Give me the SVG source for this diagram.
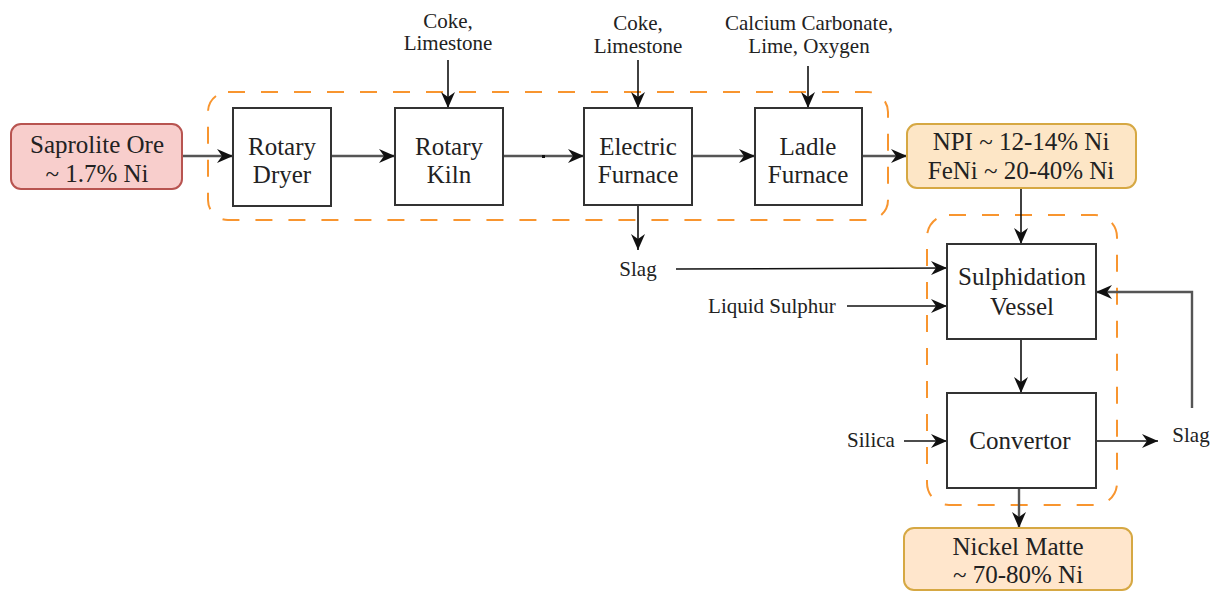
<svg xmlns="http://www.w3.org/2000/svg" width="1217" height="592" viewBox="0 0 1217 592">
<style>
.box{fill:#fff;stroke:#333;stroke-width:2}
.grp{fill:none;stroke:#f8952f;stroke-width:2;stroke-dasharray:17 16}
text{font-family:"Liberation Serif","DejaVu Serif",serif;fill:#222;text-anchor:middle}
.t{font-size:25px}
.s{font-size:21px}
.c{fill:none;stroke:#111;stroke-width:1.6}
.m{fill:none;stroke:#555;stroke-width:2.4}
</style>
<defs>
<marker id="a" viewBox="0 0 16 14" refX="16" refY="7" markerWidth="16" markerHeight="14" markerUnits="userSpaceOnUse" orient="auto">
<path d="M0,0 L16,7 L0,14 L5,7 Z" fill="#111"/>
</marker>
</defs>
<rect width="1217" height="592" fill="#fff"/>
<g id="group-pyro"><rect class="grp" x="208" y="92" width="680" height="128" rx="20"/></g>
<g id="group-sulph"><rect class="grp" x="927" y="215" width="190" height="290" rx="22"/></g>
<g id="connectors">
<line class="m" x1="182" y1="156" x2="233" y2="156" marker-end="url(#a)"/>
<line class="m" x1="331" y1="156" x2="395" y2="156" marker-end="url(#a)"/>
<line class="m" x1="503" y1="156" x2="584" y2="156" marker-end="url(#a)"/>
<rect x="542" y="155" width="3" height="3" fill="#111"/>
<line class="m" x1="692" y1="156" x2="755" y2="156" marker-end="url(#a)"/>
<line class="m" x1="862" y1="156" x2="907" y2="156" marker-end="url(#a)"/>
<line class="c" x1="448" y1="60" x2="448" y2="108" marker-end="url(#a)"/>
<line class="c" x1="638" y1="60" x2="638" y2="108" marker-end="url(#a)"/>
<line class="c" x1="808" y1="66" x2="808" y2="108" marker-end="url(#a)"/>
<line class="c" x1="638" y1="205" x2="638" y2="250" marker-end="url(#a)"/>
<line class="c" x1="676" y1="269" x2="947" y2="268" marker-end="url(#a)"/>
<line class="c" x1="847" y1="306" x2="947" y2="306" marker-end="url(#a)"/>
<line class="c" x1="1021" y1="188" x2="1021" y2="244" marker-end="url(#a)"/>
<line class="c" x1="1021" y1="339" x2="1021" y2="393" marker-end="url(#a)"/>
<line class="c" x1="904" y1="441" x2="947" y2="441" marker-end="url(#a)"/>
<line class="c" x1="1096" y1="441" x2="1158" y2="441" marker-end="url(#a)"/>
<polyline class="m" points="1192,408 1192,292 1096,292" marker-end="url(#a)"/>
<line class="m" x1="1019" y1="488" x2="1019" y2="528" marker-end="url(#a)"/>
</g>
<g id="saprolite"><rect x="11" y="124" width="171" height="65" rx="10" fill="#f8cecc" stroke="#b85450" stroke-width="2"/>
<text class="t" x="97" y="153">Saprolite Ore</text><text class="t" x="97" y="182">~ 1.7% Ni</text></g>
<g id="rotary-dryer"><rect class="box" x="233" y="108" width="98" height="98"/>
<text class="t" x="282" y="155">Rotary</text><text class="t" x="282" y="183">Dryer</text></g>
<g id="rotary-kiln"><rect class="box" x="395" y="108" width="108" height="97"/>
<text class="t" x="449" y="155">Rotary</text><text class="t" x="449" y="183">Kiln</text></g>
<g id="electric-furnace"><rect class="box" x="584" y="108" width="108" height="97"/>
<text class="t" x="638" y="155">Electric</text><text class="t" x="638" y="183">Furnace</text></g>
<g id="ladle-furnace"><rect class="box" x="755" y="108" width="107" height="97"/>
<text class="t" x="808" y="155">Ladle</text><text class="t" x="808" y="183">Furnace</text></g>
<g id="npi"><rect x="907" y="124" width="229" height="64" rx="10" fill="#fde6c6" stroke="#d6a843" stroke-width="2"/>
<text class="t" x="1021" y="150">NPI ~ 12-14% Ni</text><text class="t" x="1021" y="179">FeNi ~ 20-40% Ni</text></g>
<g id="sulphidation-vessel"><rect class="box" x="947" y="244" width="149" height="95"/>
<text class="t" x="1022" y="285">Sulphidation</text><text class="t" x="1022" y="315">Vessel</text></g>
<g id="convertor"><rect class="box" x="947" y="393" width="149" height="95"/>
<text class="t" x="1020" y="449">Convertor</text></g>
<g id="nickel-matte"><rect x="904" y="528" width="228" height="62" rx="10" fill="#ffe6cc" stroke="#d6a843" stroke-width="2"/>
<text class="t" x="1018" y="555">Nickel Matte</text><text class="t" x="1018" y="583">~ 70-80% Ni</text></g>
<g id="labels">
<text class="s" x="448" y="28">Coke,</text><text class="s" x="448" y="50">Limestone</text>
<text class="s" x="638" y="30">Coke,</text><text class="s" x="638" y="53">Limestone</text>
<text class="s" x="809" y="30">Calcium Carbonate,</text><text class="s" x="809" y="53">Lime, Oxygen</text>
<text class="s" x="638" y="276">Slag</text>
<text class="s" x="772" y="313">Liquid Sulphur</text>
<text class="s" x="871" y="447">Silica</text>
<text class="s" x="1191" y="442">Slag</text>
</g>
</svg>
